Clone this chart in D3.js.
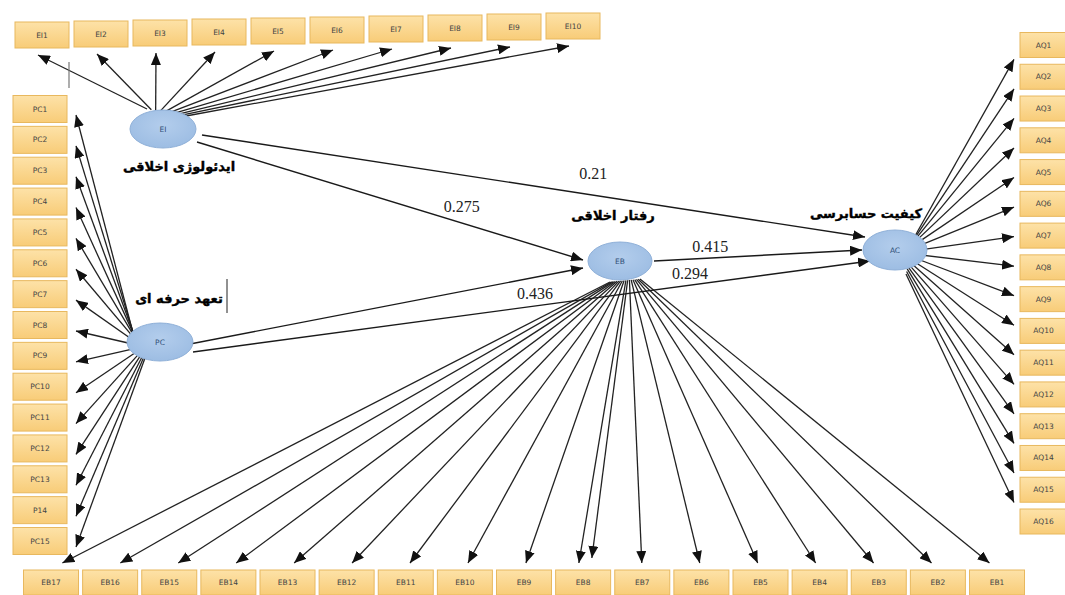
<!DOCTYPE html>
<html>
<head>
<meta charset="utf-8">
<script src="https://cdn.jsdelivr.net/npm/d3@7/dist/d3.min.js"></script>
<style>
  html, body { margin: 0; padding: 0; background: #ffffff; }
  svg { display: block; }
</style>
</head>
<body>
<svg id="chart" width="1065" height="595"></svg>
<script>
// ---------------- DATA ----------------
const eiItems = ["EI1","EI2","EI3","EI4","EI5","EI6","EI7","EI8","EI9","EI10"];
const pcItems = ["PC1","PC2","PC3","PC4","PC5","PC6","PC7","PC8","PC9","PC10","PC11","PC12","PC13","P14","PC15"];
const ebItems = ["EB17","EB16","EB15","EB14","EB13","EB12","EB11","EB10","EB9","EB8","EB7","EB6","EB5","EB4","EB3","EB2","EB1"];
const aqItems = ["AQ1","AQ2","AQ3","AQ4","AQ5","AQ6","AQ7","AQ8","AQ9","AQ10","AQ11","AQ12","AQ13","AQ14","AQ15","AQ16"];
const ebDoubleArrows = ["EB8"];           // indicator that receives two arrows in the original
const latentIds   = ["EI","PC","EB","AC"];
const latentNames = ["ایدئولوژی اخلاقی","تعهد حرفه ای","رفتار اخلاقی","کیفیت حسابرسی"];
const pathFrom  = ["EI","EI","PC","PC","EB"];
const pathTo    = ["AC","EB","EB","AC","AC"];
const pathCoefs = [0.21, 0.275, 0.436, 0.294, 0.415];

// ---------------- LAYOUT ----------------
const svg = d3.select("#chart");

const latentLayout = {
  EI: {cx:163, cy:129, rx:33, ry:19, lx:179, ly:166},
  PC: {cx:160, cy:342, rx:33, ry:19, lx:179, ly:298},
  EB: {cx:620, cy:261, rx:32, ry:19, lx:613, ly:215},
  AC: {cx:895, cy:250, rx:32, ry:20, lx:866, ly:213}
};
const pathGeom = [
  {s:[39,6],  e:[-30,-13], t:0.59, dy:-22},
  {s:[34,13], e:[-37,-1],  t:0.686, dy:-16},
  {s:[30,2],  e:[-37,7],   t:0.878, dy:16},
  {s:[33,10], e:[-25,11],  t:0.734, dy:-12},
  {s:[34,0],  e:[-33,0],   t:0.27, dy:-12}
];

const eiX = d3.scalePoint().domain(eiItems).range([42, 573]);
const eiY = d3.scaleLinear().domain([0, eiItems.length-1]).range([35, 26]);
const pcY = d3.scalePoint().domain(pcItems).range([109, 541]);
const ebX = d3.scalePoint().domain(ebItems).range([51, 997]);
const aqY = d3.scalePoint().domain(aqItems).range([45, 521.5]);

const boxW = 54, boxH = 26;

// ---------------- DEFS ----------------
const defs = svg.append("defs");
const g1 = defs.append("linearGradient").attr("id","boxGrad").attr("x1","0").attr("y1","0").attr("x2","0").attr("y2","1");
g1.append("stop").attr("offset","0%").attr("stop-color","#fde2a8");
g1.append("stop").attr("offset","100%").attr("stop-color","#f8cc78");
const g2 = defs.append("radialGradient").attr("id","ellGrad").attr("cx","50%").attr("cy","40%").attr("r","60%");
g2.append("stop").attr("offset","0%").attr("stop-color","#b3cdec");
g2.append("stop").attr("offset","100%").attr("stop-color","#9dbde3");
defs.append("marker")
  .attr("id","arrow").attr("viewBox","0 0 12 10").attr("refX",12).attr("refY",5)
  .attr("markerWidth",12).attr("markerHeight",10).attr("markerUnits","userSpaceOnUse")
  .attr("orient","auto")
  .append("path").attr("d","M0,0 L12,5 L0,10 Z").attr("fill","#111");

// ---------------- BUILD INDICATORS ----------------
const boxes = [];
const arrows = [];
const lerp = (a, b, t) => a + (b - a) * t;

eiItems.forEach((id, i) => {
  const cx = eiX(id), cy = eiY(i);
  boxes.push({id, x: cx - boxW/2, y: cy - boxH/2, w: boxW, h: boxH});
  const t = i / (eiItems.length - 1);
  arrows.push({x1: lerp(147, 186, t), y1: lerp(109, 116, t), x2: cx - 4, y2: cy + boxH/2 + 7});
});
pcItems.forEach((id, i) => {
  const cy = pcY(id);
  boxes.push({id, x: 13, y: cy - 13.5, w: 54, h: 27});
  const t = i / (pcItems.length - 1);
  arrows.push({x1: lerp(133, 145, t), y1: lerp(333, 358, t), x2: 76, y2: cy + 6});
});
const ebArrowList = [];
ebItems.forEach(id => { ebArrowList.push({id, k:0}); if (ebDoubleArrows.includes(id)) ebArrowList.push({id, k:1}); });
ebItems.forEach(id => {
  const cx = ebX(id);
  boxes.push({id, x: cx - 27.5, y: 570, w: 55, h: 25});
});
ebArrowList.forEach((a, i) => {
  const cx = ebX(a.id);
  const t = i / (ebArrowList.length - 1);
  const tipX = cx + (620 - cx) * 0.02 + (a.k ? 8 : (ebDoubleArrows.includes(a.id) ? -5 : 0));
  arrows.push({x1: lerp(610, 640, t), y1: lerp(282, 279, t), x2: tipX, y2: a.k ? 558 : 563});
});
aqItems.forEach((id, i) => {
  const cy = aqY(id);
  boxes.push({id, x: 1020, y: cy - 12.5, w: 47, h: 25});
  const t = i / (aqItems.length - 1);
  arrows.push({x1: lerp(915, 906, t), y1: lerp(236, 274, t), x2: 1014, y2: cy + (250 - cy) * 0.07});
});

// ---------------- DRAW ----------------
svg.append("g").selectAll("line").data(arrows).join("line")
  .attr("x1", d => d.x1).attr("y1", d => d.y1)
  .attr("x2", d => d.x2).attr("y2", d => d.y2)
  .attr("stroke", "#222").attr("stroke-width", 1.3)
  .attr("marker-end", "url(#arrow)");

const paths = pathFrom.map((f, i) => {
  const a = latentLayout[f], b = latentLayout[pathTo[i]], g = pathGeom[i];
  const x1 = a.cx + g.s[0], y1 = a.cy + g.s[1];
  const x2 = b.cx + g.e[0], y2 = b.cy + g.e[1];
  return {x1, y1, x2, y2, lx: lerp(x1, x2, g.t), ly: lerp(y1, y2, g.t) + g.dy, v: pathCoefs[i]};
});
svg.append("g").selectAll("line").data(paths).join("line")
  .attr("x1", d => d.x1).attr("y1", d => d.y1)
  .attr("x2", d => d.x2).attr("y2", d => d.y2)
  .attr("stroke", "#1a1a1a").attr("stroke-width", 1.4)
  .attr("marker-end", "url(#arrow)");
svg.append("g").selectAll("text").data(paths).join("text")
  .attr("x", d => d.lx).attr("y", d => d.ly)
  .attr("text-anchor", "middle").attr("dominant-baseline", "central")
  .attr("font-family", "'Liberation Serif', 'DejaVu Serif', serif")
  .attr("font-size", 16).attr("fill", "#222")
  .text(d => d.v);

const bg = svg.append("g").selectAll("g").data(boxes).join("g");
bg.append("rect")
  .attr("x", d => d.x).attr("y", d => d.y).attr("width", d => d.w).attr("height", d => d.h)
  .attr("fill", "url(#boxGrad)").attr("stroke", "#e8b85e").attr("stroke-width", 1);
bg.append("text")
  .attr("x", d => d.x + d.w/2).attr("y", d => d.y + d.h/2)
  .attr("text-anchor", "middle").attr("dominant-baseline", "central")
  .attr("font-family", "'DejaVu Sans', sans-serif").attr("font-size", 7.5)
  .attr("fill", "#444")
  .text(d => d.id);

const lat = latentIds.map((id, i) => ({id, name: latentNames[i], ...latentLayout[id]}));
svg.append("g").selectAll("ellipse").data(lat).join("ellipse")
  .attr("cx", d => d.cx).attr("cy", d => d.cy).attr("rx", d => d.rx).attr("ry", d => d.ry)
  .attr("fill", "url(#ellGrad)").attr("stroke", "#8fb0d8").attr("stroke-width", 1);
svg.append("g").selectAll("text").data(lat).join("text")
  .attr("x", d => d.cx).attr("y", d => d.cy)
  .attr("text-anchor", "middle").attr("dominant-baseline", "central")
  .attr("font-family", "'DejaVu Sans', sans-serif").attr("font-size", 7.5)
  .attr("fill", "#2f4f77")
  .text(d => d.id);
svg.append("g").selectAll("text").data(lat).join("text")
  .attr("x", d => d.lx).attr("y", d => d.ly)
  .attr("text-anchor", "middle").attr("dominant-baseline", "central")
  .attr("direction", "rtl")
  .attr("font-family", "'DejaVu Sans', 'Noto Sans', sans-serif").attr("font-weight", "bold")
  .attr("font-size", 13).attr("fill", "#000")
  .attr("stroke", "#000").attr("stroke-width", 0.4)
  .text(d => d.name);

svg.append("line").attr("x1", 69).attr("y1", 62).attr("x2", 69).attr("y2", 88)
  .attr("stroke", "#777").attr("stroke-width", 1.2);
svg.append("line").attr("x1", 227).attr("y1", 279).attr("x2", 227).attr("y2", 313)
  .attr("stroke", "#222").attr("stroke-width", 1);
</script>
</body>
</html>
